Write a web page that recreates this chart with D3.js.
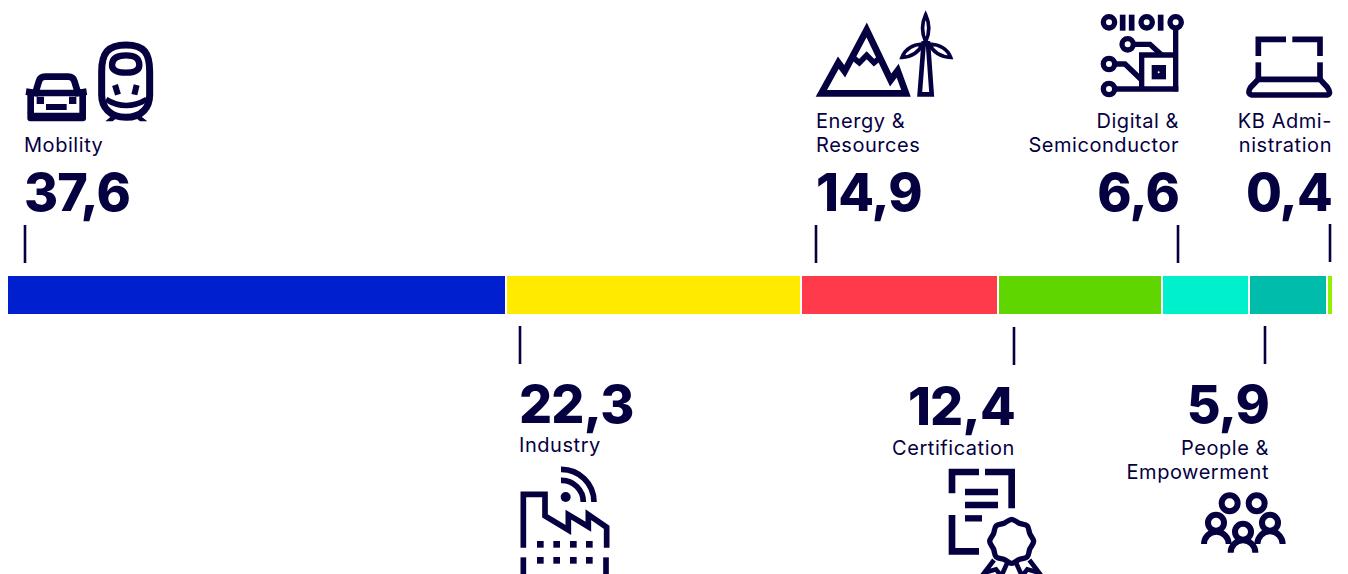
<!DOCTYPE html>
<meta charset="utf-8">
<style>
    html, body { margin: 0; padding: 0; background: #fff; overflow: hidden; }
    svg { display: block; }
    text { font-family: "Inter", sans-serif; fill: #05003f; }
    .num { font-size: 52px; font-weight: 800; letter-spacing: -0.8px; }
    .lab { font-size: 20px; font-weight: 400; letter-spacing: 0.55px; }
</style>
<div id="chart"></div>
<script src="https://d3js.org/d3.v7.min.js"></script>
<script>
    // Data
    var categories = ["Mobility", "Industry", "Energy & Resources", "Certification", "Digital & Semiconductor", "People & Empowerment", "KB Administration"];
    var shares = [37.6, 22.3, 14.9, 12.4, 6.6, 5.9, 0.4];
    var labelLines = [["Mobility"], ["Industry"], ["Energy &", "Resources"], ["Certification"], ["Digital &", "Semiconductor"], ["People &", "Empowerment"], ["KB Admi-", "nistration"]];

    // Layout
    var width = 1348, height = 574;
    var barTop = 276, barHeight = 38;
    var palette = ["#0020d0", "#ffea00", "#ff3a4a", "#60d600", "#00f0cc", "#00bcaa", "#90f000"];
    // tick: px from the start of the segment, up: above the bar
    var callouts = [
        {tick: 17, up: true, anchor: "start", dx: -1, numDy: 0, labDy: 0, tickDy: 0},
        {tick: 13, up: false, anchor: "start", dx: -1, numDy: 0, labDy: 0, tickDy: 0},
        {tick: 14, up: true, anchor: "start", dx: 0, numDy: 0, labDy: 0, tickDy: 0},
        {tick: 15, up: false, anchor: "end", dx: 1, numDy: 2, labDy: 3, tickDy: 1},
        {tick: 15, up: true, anchor: "end", dx: 1, numDy: 0, labDy: 0, tickDy: 0},
        {tick: 15, up: false, anchor: "end", dx: 4, numDy: 0, labDy: 2.5, tickDy: 0},
        {tick: 2, up: true, anchor: "end", dx: 2, numDy: 0, labDy: 0, tickDy: -1}
    ];

    var svg = d3.select("#chart").append("svg")
        .attr("width", width)
        .attr("height", height);

    var x = d3.scaleLinear()
        .domain([0, d3.sum(shares)])
        .range([8, 1332]);

    var color = d3.scaleOrdinal().domain(categories).range(palette);
    var fmt = d3.formatLocale({decimal: ",", thousands: ".", grouping: [3], currency: ["", ""]}).format(".1f");

    var starts = d3.cumsum([0].concat(shares));
    function segStart(i) { return Math.floor(x(starts[i])) + (i ? 2 : 0); }
    function segEnd(i) { return i < 6 ? Math.floor(x(starts[i + 1])) : 1332; }

    // Bar segments
    svg.selectAll("rect.seg")
        .data(categories)
        .enter()
        .append("rect")
        .attr("class", "seg")
        .attr("x", function(d, i) { return segStart(i); })
        .attr("y", barTop)
        .attr("width", function(d, i) { return segEnd(i) - segStart(i); })
        .attr("height", barHeight)
        .style("fill", function(d) { return color(d); });

    // Ticks and labels
    categories.forEach(function(c, i) {
        var o = callouts[i];
        var px = segStart(i) + o.tick;
        var tx = px + o.dx;
        svg.append("line")
            .attr("x1", px).attr("x2", px)
            .attr("y1", (o.up ? 225 : 326) + o.tickDy)
            .attr("y2", (o.up ? 263 : 364) + o.tickDy)
            .style("stroke", "#05003f")
            .style("stroke-width", 2.6);

        var lines = labelLines[i];
        svg.append("text").attr("class", "num")
            .attr("x", tx)
            .attr("y", (o.up ? 211 : 423) + o.numDy)
            .attr("text-anchor", o.anchor)
            .text(fmt(shares[i]));
        lines.forEach(function(l, k) {
            svg.append("text").attr("class", "lab")
                .attr("x", tx)
                .attr("y", (o.up ? 152 - (lines.length - 1 - k) * 24 : 452 + k * 24) + o.labDy)
                .attr("text-anchor", o.anchor)
                .text(l);
        });
    });

    // Icons, drawn at 3x and scaled down
    function icon(ox, oy) {
        return svg.append("g")
            .attr("transform", "translate(" + ox + "," + oy + ") scale(" + (1 / 3) + ")")
            .style("fill", "none")
            .style("stroke", "#05003f");
    }
    function paths(g, list, w) {
        list.forEach(function(d) {
            g.append("path").attr("d", d).style("stroke-width", w);
        });
    }
    function rings(g, list, r, w) {
        list.forEach(function(p) {
            g.append("circle").attr("cx", p[0]).attr("cy", p[1]).attr("r", r).style("stroke-width", w);
        });
    }
    function blocks(g, list) {
        list.forEach(function(b) {
            g.append("rect").attr("x", b[0]).attr("y", b[1]).attr("width", b[2]).attr("height", b[3])
                .style("fill", "#05003f").style("stroke", "none");
        });
    }
    function solid(g, d) {
        g.append("path").attr("d", d).style("fill", "#05003f").style("stroke", "none");
    }

    // car
    var car = icon(0, 0);
    paths(car, ["M78,275 L106,279 L117,243 Q121,230 135,230 H205 Q219,230 223,243 L234,279 L260,275"], 20);
    paths(car, ["M92,279 H248 V340 M92,279 V340"], 20);
    blocks(car, [[110, 290, 22, 22], [207, 290, 22, 22], [138, 312, 62, 18]]);
    solid(car, "M82,338 H258 V355 Q258,364 249,364 H91 Q82,364 82,355 Z");

    // train
    var train = icon(0, 0);
    paths(train, ["M378,135 C322,135 305,160 305,215 V285 C305,322 330,352 378,352 C426,352 449,322 449,285 V215 C449,160 434,135 378,135 Z"], 21);
    paths(train, ["M378,166 C350,166 336,175 336,195 C336,212 355,218 378,218 C400,218 418,212 418,195 C418,175 405,166 378,166 Z"], 19);
    paths(train, ["M318,298 Q378,335 440,298"], 17);
    paths(train, ["M345,255 L354,284", "M410,255 L403,284"], 18);
    solid(train, "M316,364 L342,342 H414 L442,364 H420 L408,354 H350 L338,364 Z");

    // mountain and wind turbine
    var energy = icon(800, 0);
    paths(energy, ["M64,280 L115,188 L134,214 L200,90 L272,240 L293,212 L318,280 Z"], 20);
    paths(energy, ["M158,172 L178,188 L200,166 L222,188 L242,172"], 17);
    paths(energy, ["M359,283 L371,130 H384 L395,283 Z"], 14);
    paths(energy, ["M377,44 Q358,85 377,125 Q396,85 377,44 Z"], 11);
    paths(energy, ["M306,172 Q320,135 368,132 Q350,170 306,172 Z", "M452,172 Q438,135 388,132 Q406,170 452,172 Z"], 11);

    // circuit
    var digital = icon(1090, 0);
    rings(digital, [[57, 67], [170, 67], [257, 67], [113, 133], [57, 192], [57, 267]], 17, 16);
    paths(digital, ["M98,44 V92", "M125,44 V92", "M212,44 V92"], 17);
    paths(digital, ["M257,84 V274", "M74,267 H265", "M155,267 V165 H257", "M130,133 H180 L215,165", "M74,192 H105 L155,240"], 16);
    blocks(digital, [[185, 195, 43, 43]]);
    digital.append("circle").attr("cx", 206).attr("cy", 217).attr("r", 3).style("fill", "#fff").style("stroke", "none");

    // laptop
    var laptop = icon(1090, 0);
    paths(laptop, ["M505,168 V118 H588", "M607,118 H690 V168", "M505,187 V238", "M690,187 V238"], 17);
    paths(laptop, ["M505,238 H690 L712,262 Q728,285 705,285 H492 Q468,285 482,262 Z"], 17);

    // factory
    var factory = icon(500, 450);
    paths(factory, ["M70,293 V133 H135 V198 L205,240 V194 L265,230 V194 L320,232 V293", "M70,322 V374", "M318,322 V374"], 17);
    blocks(factory, [[111, 273, 20, 20], [160, 273, 20, 20], [210, 273, 20, 20], [258, 273, 20, 20],
                     [111, 321, 20, 20], [160, 321, 20, 20], [210, 321, 20, 20], [258, 321, 20, 20]]);
    factory.append("circle").attr("cx", 197).attr("cy", 141).attr("r", 15).style("fill", "#05003f").style("stroke", "none");
    paths(factory, ["M183,91 A65,65 0 0 1 250,156", "M183,58 A98,98 0 0 1 282,156"], 17);

    // certificate
    var cert = icon(930, 460);
    paths(cert, ["M66,100 V36 H147", "M165,36 H245 V145", "M66,165 V274 H147"], 20);
    paths(cert, ["M105,96 H204", "M105,135 H204", "M105,175 H156"], 19);
    paths(cert, ["M192,300 L163,338 L198,328 L214,348 L232,308", "M298,300 L327,338 L292,328 L276,348 L258,308"], 14);
    var scallop = d3.range(16).map(function(k) {
        return [k * Math.PI / 8, k % 2 ? 59 : 66];
    });
    cert.append("path")
        .attr("transform", "translate(245,244)")
        .attr("d", d3.lineRadial().curve(d3.curveCardinalClosed)(scallop))
        .style("fill", "#fff")
        .style("stroke-width", 16);

    // people
    var people = icon(1180, 480);
    rings(people, [[149, 70], [230, 70], [108, 128], [270, 128], [189, 155]], 24, 18);
    paths(people, ["M72,192 A37,37 0 0 1 146,192", "M232,192 A38,38 0 0 1 308,192", "M152,218 A37,37 0 0 1 226,218"], 18);
</script>
